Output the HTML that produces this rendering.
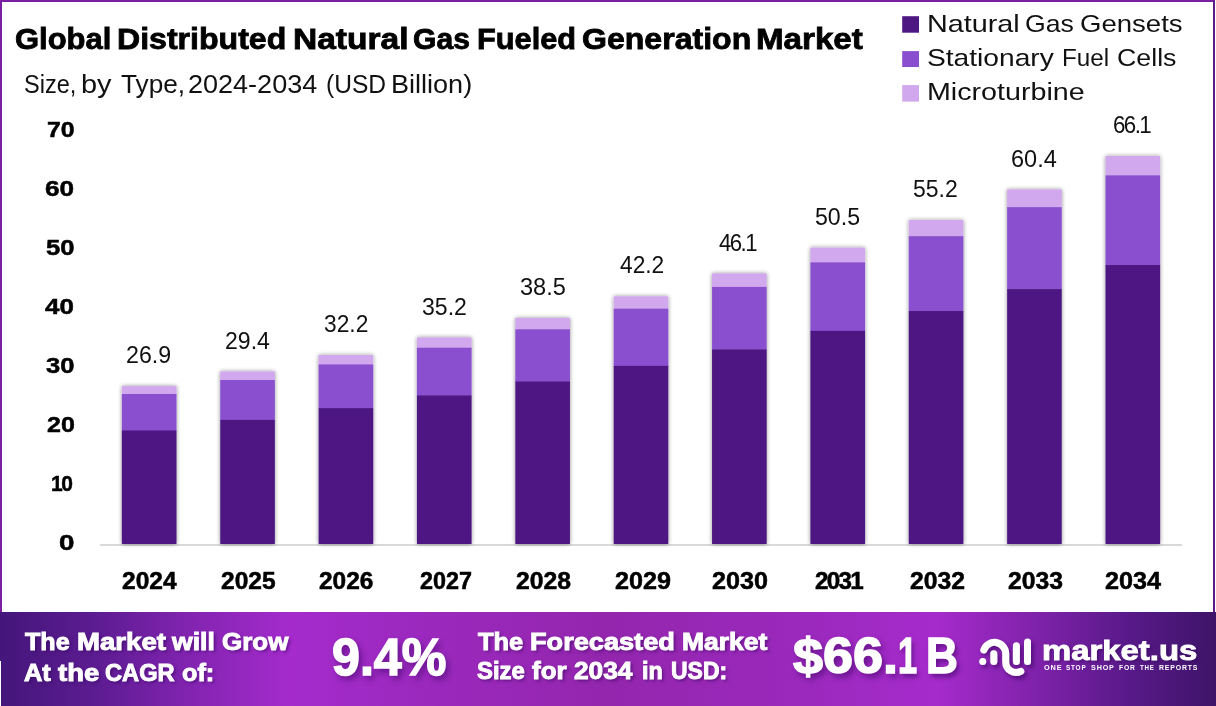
<!DOCTYPE html>
<html lang="en">
<head>
<meta charset="utf-8">
<title>Global Distributed Natural Gas Fueled Generation Market</title>
<style>

html,body{margin:0;padding:0;background:#fff;}
body{width:1216px;height:706px;overflow:hidden;position:relative;font-family:"Liberation Sans",sans-serif;}
.frame{position:absolute;left:0;top:0;width:1216px;height:706px;overflow:hidden;background:#fff;}
.bd{position:absolute;background:#7b1fa2;}
.ln{position:absolute;left:0;margin:0;padding:0;line-height:1;white-space:nowrap;width:1216px;height:1em;}
.ln span{position:absolute;top:0;transform-origin:0 0;white-space:nowrap;}
.footer{position:absolute;left:0;top:612px;width:1216px;height:94px;
 background:linear-gradient(90deg,#44167a 0%,#5d1c92 8%,#8424b2 16%,#a52bcc 24%,#9c29c0 33%,#9326ad 50%,#9b29bd 66%,#a62bcb 77%,#8022ab 85%,#5a1a8a 92.5%,#3e1468 100%);}
.ft,.big,.tiny{text-shadow:2px 2px 3px rgba(50,0,90,.55);}
.big{text-shadow:3px 4px 6px rgba(55,0,95,.6);}
.tiny{text-shadow:none}
.title span{-webkit-text-stroke:0.8px #000}
.ft span{-webkit-text-stroke:0.95px #fff}
.big span{-webkit-text-stroke:1.5px #fff}
.xl span,.yl span{-webkit-text-stroke:0.5px #000}
.tiny span{letter-spacing:0.12em}
.logo span{-webkit-text-stroke:0.9px #fff}
.sw{position:absolute;width:16.6px;height:16.6px;left:902.3px;}
svg{position:absolute;left:0;top:0;}

</style>
</head>
<body>
<div class="frame">
<svg width="1216" height="706" viewBox="0 0 1216 706" font-family="Liberation Sans, sans-serif">
<defs><filter id="sh" x="-20%" y="-5%" width="140%" height="110%"><feGaussianBlur in="SourceAlpha" stdDeviation="2.2"/><feComponentTransfer><feFuncA type="linear" slope="0.45"/></feComponentTransfer><feMerge><feMergeNode/><feMergeNode in="SourceGraphic"/></feMerge></filter></defs>
<rect x="100" y="544" width="1082" height="2" fill="#d9d9d9"/>
<g filter="url(#sh)">
<rect x="121.88" y="386.10" width="54.60" height="8.40" fill="#d1a8ee"/>
<rect x="121.88" y="393.99" width="54.60" height="36.98" fill="#8a4fcf"/>
<rect x="121.88" y="430.47" width="54.60" height="113.53" fill="#4e1882"/>
</g>
<g filter="url(#sh)">
<rect x="220.25" y="371.42" width="54.60" height="9.13" fill="#d1a8ee"/>
<rect x="220.25" y="380.05" width="54.60" height="40.37" fill="#8a4fcf"/>
<rect x="220.25" y="419.92" width="54.60" height="124.08" fill="#4e1882"/>
</g>
<g filter="url(#sh)">
<rect x="318.61" y="354.99" width="54.60" height="9.95" fill="#d1a8ee"/>
<rect x="318.61" y="364.44" width="54.60" height="44.16" fill="#8a4fcf"/>
<rect x="318.61" y="408.10" width="54.60" height="135.90" fill="#4e1882"/>
</g>
<g filter="url(#sh)">
<rect x="416.97" y="337.38" width="54.60" height="10.83" fill="#d1a8ee"/>
<rect x="416.97" y="347.71" width="54.60" height="48.23" fill="#8a4fcf"/>
<rect x="416.97" y="395.44" width="54.60" height="148.56" fill="#4e1882"/>
</g>
<g filter="url(#sh)">
<rect x="515.34" y="318.00" width="54.60" height="11.80" fill="#d1a8ee"/>
<rect x="515.34" y="329.30" width="54.60" height="52.70" fill="#8a4fcf"/>
<rect x="515.34" y="381.51" width="54.60" height="162.49" fill="#4e1882"/>
</g>
<g filter="url(#sh)">
<rect x="613.70" y="296.29" width="54.60" height="12.89" fill="#d1a8ee"/>
<rect x="613.70" y="308.67" width="54.60" height="57.72" fill="#8a4fcf"/>
<rect x="613.70" y="365.89" width="54.60" height="178.11" fill="#4e1882"/>
</g>
<g filter="url(#sh)">
<rect x="712.06" y="273.39" width="54.60" height="14.03" fill="#d1a8ee"/>
<rect x="712.06" y="286.92" width="54.60" height="63.01" fill="#8a4fcf"/>
<rect x="712.06" y="349.43" width="54.60" height="194.57" fill="#4e1882"/>
</g>
<g filter="url(#sh)">
<rect x="810.43" y="247.56" width="54.60" height="15.32" fill="#d1a8ee"/>
<rect x="810.43" y="262.39" width="54.60" height="68.98" fill="#8a4fcf"/>
<rect x="810.43" y="330.86" width="54.60" height="213.14" fill="#4e1882"/>
</g>
<g filter="url(#sh)">
<rect x="908.79" y="219.98" width="54.60" height="16.70" fill="#d1a8ee"/>
<rect x="908.79" y="236.18" width="54.60" height="75.35" fill="#8a4fcf"/>
<rect x="908.79" y="311.03" width="54.60" height="232.97" fill="#4e1882"/>
</g>
<g filter="url(#sh)">
<rect x="1007.15" y="189.45" width="54.60" height="18.23" fill="#d1a8ee"/>
<rect x="1007.15" y="207.18" width="54.60" height="82.40" fill="#8a4fcf"/>
<rect x="1007.15" y="289.08" width="54.60" height="254.92" fill="#4e1882"/>
</g>
<g filter="url(#sh)">
<rect x="1105.52" y="155.99" width="54.60" height="19.90" fill="#d1a8ee"/>
<rect x="1105.52" y="175.39" width="54.60" height="90.13" fill="#8a4fcf"/>
<rect x="1105.52" y="265.02" width="54.60" height="278.98" fill="#4e1882"/>
</g>
</svg>
<svg width="1216" height="120" viewBox="0 0 1216 120">
<rect x="902.2" y="16.2" width="16.8" height="16.5" fill="#4e1882"/>
<rect x="902.2" y="51.1" width="16.8" height="15.9" fill="#8a4fcf"/>
<rect x="902.2" y="85.1" width="16.8" height="16.5" fill="#d1a8ee"/>
</svg>
<div class="footer"></div>
<svg width="1216" height="706" viewBox="0 0 1216 706" style="pointer-events:none">
<defs><filter id="ls" x="-30%" y="-30%" width="170%" height="170%"><feDropShadow dx="2.5" dy="3" stdDeviation="2" flood-color="#32005a" flood-opacity="0.6"/></filter></defs>
<g filter="url(#ls)" fill="none" stroke="#fff" stroke-width="7" stroke-linecap="round">
<circle cx="982.7" cy="661.4" r="3.5" fill="#fff" stroke="none"/>
<path d="M983.8 650 A11.25 11.25 0 0 1 1005.7 653.75 L1005.7 662 A10.4 10.4 0 0 0 1020.8 671.3"/>
<path d="M993.8 653.7 L993.8 661.6"/>
<path d="M1016.4 645.8 L1016.4 661.6"/>
<path d="M1027.5 642 L1027.5 661.6"/>
</g></svg>
<h1 class="ln title" style="top:24.23px;font-size:29.5px;font-weight:700;color:#000">
<span id="w0" style="left:14.97px;transform:scaleX(1.0488)">Global</span> <span id="w1" style="left:116.56px;transform:scaleX(1.0872)">Distributed</span> <span id="w2" style="left:292.54px;transform:scaleX(1.1366)">Natural</span> <span id="w3" style="left:412.76px;transform:scaleX(1.0199)">Gas</span> <span id="w4" style="left:476.97px;transform:scaleX(1.0420)">Fueled</span> <span id="w5" style="left:581.78px;transform:scaleX(1.0867)">Generation</span> <span id="w6" style="left:756.36px;transform:scaleX(1.1233)">Market</span>
</h1>
<p class="ln sub" style="top:72.07px;font-size:25.2px;font-weight:400;color:#111">
<span id="w7" style="left:23.73px;transform:scaleX(0.9348)">Size,</span> <span id="w8" style="left:81.41px;transform:scaleX(1.1495)">by</span> <span id="w9" style="left:121.00px;transform:scaleX(1.0399)">Type,</span> <span id="w10" style="left:188.38px;transform:scaleX(1.0728)">2024-2034</span> <span id="w11" style="left:326.16px;transform:scaleX(0.9755)">(USD</span> <span id="w12" style="left:390.69px;transform:scaleX(1.0738)">Billion)</span>
</p>
<div class="ln lg" style="top:11.81px;font-size:24.2px;font-weight:400;color:#111">
<span id="w13" style="left:926.54px;transform:scaleX(1.1891)">Natural</span> <span id="w14" style="left:1024.95px;transform:scaleX(1.1017)">Gas</span> <span id="w15" style="left:1079.97px;transform:scaleX(1.1394)">Gensets</span>
</div>
<div class="ln lg" style="top:45.71px;font-size:24.2px;font-weight:400;color:#111">
<span id="w16" style="left:926.57px;transform:scaleX(1.1647)">Stationary</span> <span id="w17" style="left:1061.61px;transform:scaleX(1.0007)">Fuel</span> <span id="w18" style="left:1116.78px;transform:scaleX(1.1058)">Cells</span>
</div>
<div class="ln lg" style="top:80.11px;font-size:24.2px;font-weight:400;color:#111">
<span id="w19" style="left:926.96px;transform:scaleX(1.1847)">Microturbine</span>
</div>
<div class="ln ft" style="top:630.47px;font-size:23.9px;font-weight:700;color:#fff">
<span id="w20" style="left:25.19px;transform:scaleX(1.0502)">The</span> <span id="w21" style="left:76.59px;transform:scaleX(1.1558)">Market</span> <span id="w22" style="left:172.40px;transform:scaleX(1.1119)">will</span> <span id="w23" style="left:222.20px;transform:scaleX(1.0875)">Grow</span>
</div>
<div class="ln ft" style="top:660.57px;font-size:23.9px;font-weight:700;color:#fff">
<span id="w24" style="left:24.40px;transform:scaleX(1.0632)">At</span> <span id="w25" style="left:57.81px;transform:scaleX(1.1497)">the</span> <span id="w26" style="left:105.00px;transform:scaleX(0.9894)">CAGR</span> <span id="w27" style="left:182.00px;transform:scaleX(1.0582)">of:</span>
</div>
<div class="ln big" style="top:631.63px;font-size:51px;font-weight:700;color:#fff">
<span id="w28" style="left:331.78px;transform:scaleX(0.9843)">9.4%</span>
</div>
<div class="ln ft" style="top:629.77px;font-size:23.9px;font-weight:700;color:#fff">
<span id="w29" style="left:477.80px;transform:scaleX(1.0642)">The</span> <span id="w30" style="left:529.79px;transform:scaleX(1.1363)">Forecasted</span> <span id="w31" style="left:682.39px;transform:scaleX(1.1090)">Market</span>
</div>
<div class="ln ft" style="top:659.47px;font-size:23.9px;font-weight:700;color:#fff">
<span id="w32" style="left:477.40px;transform:scaleX(0.9998)">Size</span> <span id="w33" style="left:532.00px;transform:scaleX(1.0864)">for</span> <span id="w34" style="left:574.00px;transform:scaleX(1.0989)">2034</span> <span id="w35" style="left:642.07px;transform:scaleX(0.9792)">in</span> <span id="w36" style="left:670.57px;transform:scaleX(0.9610)">USD:</span>
</div>
<div class="ln big" style="top:631.10px;font-size:49.5px;font-weight:700;color:#fff">
<span id="w37" style="left:792.81px;transform:scaleX(1.0905)">$66.</span><span id="w38" style="left:897.75px;transform:scaleX(0.6923)">1</span> <span id="w39" style="left:926.02px;transform:scaleX(0.8924)">B</span>
</div>
<div class="ln ft logo" style="top:635.87px;font-size:28.5px;font-weight:700;color:#fff">
<span id="w40" style="left:1042.37px;transform:scaleX(1.1529)">market.us</span>
</div>
<div class="ln tiny" style="top:664.97px;font-size:6.3px;font-weight:700;color:#fff">
<span id="w41" style="left:1044.41px;transform:scaleX(1.1614)">ONE</span> <span id="w42" style="left:1066.00px;transform:scaleX(1.0188)">STOP</span> <span id="w43" style="left:1090.59px;transform:scaleX(1.1350)">SHOP</span> <span id="w44" style="left:1119.00px;transform:scaleX(1.0709)">FOR</span> <span id="w45" style="left:1139.96px;transform:scaleX(0.9849)">THE</span> <span id="w46" style="left:1159.00px;transform:scaleX(1.0982)">REPORTS</span>
</div>
<div class="ln vl" style="top:344.26px;font-size:23.2px;font-weight:400;color:#111">
<span id="w47" style="left:125.95px;transform:scaleX(0.9990)">26.9</span>
</div>
<div class="ln vl" style="top:329.58px;font-size:23.2px;font-weight:400;color:#111">
<span id="w48" style="left:224.97px;transform:scaleX(0.9936)">29.4</span>
</div>
<div class="ln vl" style="top:313.15px;font-size:23.2px;font-weight:400;color:#111">
<span id="w49" style="left:324.15px;transform:scaleX(0.9818)">32.2</span>
</div>
<div class="ln vl" style="top:295.54px;font-size:23.2px;font-weight:400;color:#111">
<span id="w50" style="left:421.56px;transform:scaleX(0.9946)">35.2</span>
</div>
<div class="ln vl" style="top:276.17px;font-size:23.2px;font-weight:400;color:#111">
<span id="w51" style="left:520.16px;transform:scaleX(1.0167)">38.5</span>
</div>
<div class="ln vl" style="top:254.45px;font-size:23.2px;font-weight:400;color:#111">
<span id="w52" style="left:619.59px;transform:scaleX(0.9800)">42.2</span>
</div>
<div class="ln vl" style="top:231.55px;font-size:23.2px;font-weight:400;color:#111">
<span id="w53" style="left:719.40px;letter-spacing:-0.07em;transform:scaleX(0.9579)">46.1</span>
</div>
<div class="ln vl" style="top:205.73px;font-size:23.2px;font-weight:400;color:#111">
<span id="w54" style="left:815.35px;transform:scaleX(0.9982)">50.5</span>
</div>
<div class="ln vl" style="top:178.14px;font-size:23.2px;font-weight:400;color:#111">
<span id="w55" style="left:913.32px;transform:scaleX(0.9911)">55.2</span>
</div>
<div class="ln vl" style="top:147.61px;font-size:23.2px;font-weight:400;color:#111">
<span id="w56" style="left:1011.19px;transform:scaleX(1.0157)">60.4</span>
</div>
<div class="ln vl" style="top:114.15px;font-size:23.2px;font-weight:400;color:#111">
<span id="w57" style="left:1113.20px;letter-spacing:-0.07em;transform:scaleX(0.9630)">66.1</span>
</div>
<div class="ln xl" style="top:569.53px;font-size:23px;font-weight:700;color:#000">
<span id="w58" style="left:122.00px;transform:scaleX(1.0670)">2024</span>
</div>
<div class="ln xl" style="top:569.53px;font-size:23px;font-weight:700;color:#000">
<span id="w59" style="left:221.00px;transform:scaleX(1.0671)">2025</span>
</div>
<div class="ln xl" style="top:569.53px;font-size:23px;font-weight:700;color:#000">
<span id="w60" style="left:318.60px;transform:scaleX(1.0631)">2026</span>
</div>
<div class="ln xl" style="top:569.53px;font-size:23px;font-weight:700;color:#000">
<span id="w61" style="left:419.61px;transform:scaleX(1.0166)">2027</span>
</div>
<div class="ln xl" style="top:569.53px;font-size:23px;font-weight:700;color:#000">
<span id="w62" style="left:515.60px;transform:scaleX(1.0748)">2028</span>
</div>
<div class="ln xl" style="top:569.53px;font-size:23px;font-weight:700;color:#000">
<span id="w63" style="left:614.61px;transform:scaleX(1.0947)">2029</span>
</div>
<div class="ln xl" style="top:569.53px;font-size:23px;font-weight:700;color:#000">
<span id="w64" style="left:711.60px;transform:scaleX(1.0945)">2030</span>
</div>
<div class="ln xl" style="top:569.53px;font-size:23px;font-weight:700;color:#000">
<span id="w65" style="left:814.58px;letter-spacing:-0.07em;transform:scaleX(1.0528)">2031</span>
</div>
<div class="ln xl" style="top:569.53px;font-size:23px;font-weight:700;color:#000">
<span id="w66" style="left:909.60px;transform:scaleX(1.0750)">2032</span>
</div>
<div class="ln xl" style="top:569.53px;font-size:23px;font-weight:700;color:#000">
<span id="w67" style="left:1007.60px;transform:scaleX(1.0750)">2033</span>
</div>
<div class="ln xl" style="top:569.53px;font-size:23px;font-weight:700;color:#000">
<span id="w68" style="left:1104.59px;transform:scaleX(1.0945)">2034</span>
</div>
<div class="ln yl" style="top:532.39px;font-size:22.1px;font-weight:700;color:#000">
<span id="w69" style="left:59.26px;transform:scaleX(1.2547)">0</span>
</div>
<div class="ln yl" style="top:473.39px;font-size:22.1px;font-weight:700;color:#000">
<span id="w70" style="left:51.01px;letter-spacing:-0.07em;transform:scaleX(0.9503)">10</span>
</div>
<div class="ln yl" style="top:414.39px;font-size:22.1px;font-weight:700;color:#000">
<span id="w71" style="left:47.00px;transform:scaleX(1.1329)">20</span>
</div>
<div class="ln yl" style="top:355.39px;font-size:22.1px;font-weight:700;color:#000">
<span id="w72" style="left:46.18px;transform:scaleX(1.1567)">30</span>
</div>
<div class="ln yl" style="top:296.39px;font-size:22.1px;font-weight:700;color:#000">
<span id="w73" style="left:45.00px;transform:scaleX(1.1736)">40</span>
</div>
<div class="ln yl" style="top:237.39px;font-size:22.1px;font-weight:700;color:#000">
<span id="w74" style="left:45.95px;transform:scaleX(1.1594)">50</span>
</div>
<div class="ln yl" style="top:178.39px;font-size:22.1px;font-weight:700;color:#000">
<span id="w75" style="left:44.78px;transform:scaleX(1.1847)">60</span>
</div>
<div class="ln yl" style="top:119.39px;font-size:22.1px;font-weight:700;color:#000">
<span id="w76" style="left:47.13px;transform:scaleX(1.1261)">70</span>
</div>
<div class="bd" style="left:0;top:0;width:1215px;height:2px"></div>
<div class="bd" style="left:0;top:0;width:2px;height:612px"></div>
<div class="bd" style="left:1213px;top:0;width:2px;height:612px;background:#5e1a86"></div>
<div class="bd" style="left:0;top:661px;width:1px;height:45px;background:#fff"></div>
</div>
</body>
</html>
